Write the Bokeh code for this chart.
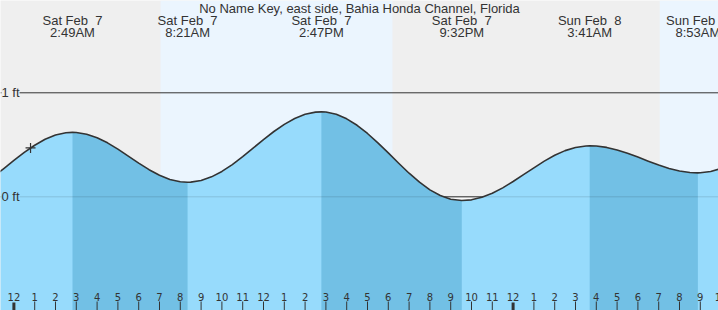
import numpy as np
from bokeh.plotting import figure
from bokeh.models import Range1d, BoxAnnotation, Label
from bokeh.core.properties import value
from bokeh.embed import file_html
from bokeh.resources import INLINE

title_text = "No Name Key, east side, Bahia Honda Channel, Florida"

# time axis: hours since Sat Feb 7 00:00 (local); heights in ft
tide_hours = [-1, -0.5, 0, 0.5, 1, 1.5, 2, 2.5, 2.817,
              3, 3.5, 4, 4.5, 5, 5.5, 6, 6.5, 7, 7.5, 8, 8.35,
              8.5, 9, 9.5, 10, 10.5, 11, 11.5, 12, 12.5, 13, 13.5, 14, 14.5, 14.783,
              15, 15.5, 16, 16.5, 17, 17.5, 18, 18.5, 19, 19.5, 20, 20.5, 21, 21.533,
              22, 22.5, 23, 23.5, 24, 24.5, 25, 25.5, 26, 26.5, 27, 27.5, 27.683,
              28, 28.5, 29, 29.5, 30, 30.5, 31, 31.5, 32, 32.5, 32.883,
              33, 33.5, 34]
tide_ft = [0.19, 0.269, 0.35, 0.427, 0.496, 0.553, 0.594, 0.616, 0.62,
           0.619, 0.602, 0.568, 0.519, 0.458, 0.391, 0.324, 0.261, 0.207, 0.167, 0.145, 0.14,
           0.141, 0.157, 0.192, 0.244, 0.31, 0.386, 0.468, 0.55, 0.628, 0.697, 0.753, 0.793, 0.814, 0.817,
           0.815, 0.794, 0.75, 0.688, 0.609, 0.519, 0.422, 0.323, 0.227, 0.141, 0.067, 0.012, -0.023, -0.036,
           -0.029, -0.005, 0.034, 0.086, 0.147, 0.213, 0.279, 0.343, 0.399, 0.444, 0.474, 0.489, 0.49,
           0.488, 0.475, 0.451, 0.419, 0.382, 0.343, 0.306, 0.273, 0.248, 0.234, 0.23,
           0.231, 0.243, 0.273]

event_hours = [2.817, 8.35, 14.783, 21.533, 27.683, 32.883]
event_ft = [0.62, 0.14, 0.817, -0.036, 0.49, 0.23]
event_kind = ["H", "L", "H", "L", "H", "L"]
event_day = ["Sat Feb  7", "Sat Feb  7", "Sat Feb  7", "Sat Feb  7", "Sun Feb  8", "Sun Feb  8"]
event_time = ["2:49AM", "8:21AM", "2:47PM", "9:32PM", "3:41AM", "8:53AM"]

sunrise_hours = [7.05, 31.05]
sunset_hours = [18.2, None]

now_hour = 0.8
now_ft = 0.47

tick_hours = list(range(0, 35))
tick_labels = ["12", "1", "2", "3", "4", "5", "6", "7", "8", "9", "10", "11",
               "12", "1", "2", "3", "4", "5", "6", "7", "8", "9", "10", "11",
               "12", "1", "2", "3", "4", "5", "6", "7", "8", "9", "10"]
level_labels = ["1 ft", "0 ft"]
level_values = [1, 0]

# styles
NIGHT = "#efefef"
DAY = "#ebf5fe"
WATER = "#97dbfc"
WATER_FALL = "#72c0e5"
INK = "#333333"
FONT = value("Liberation Sans")


def keep_spaces(s):
    return s.replace("  ", " \u00a0")


W, H = 718, 310
x0, x1 = -0.644, 33.875
y0, y1 = -1.093, 1.8875

p = figure(width=W, height=H, x_range=Range1d(x0, x1), y_range=Range1d(y0, y1),
           output_backend="svg", toolbar_location=None, min_border=0,
           x_axis_type=None, y_axis_type=None,
           background_fill_color=NIGHT, border_fill_color=NIGHT,
           outline_line_color=None)
p.grid.visible = False

for sr, ss in zip(sunrise_hours, sunset_hours):
    p.add_layout(BoxAnnotation(left=sr, right=ss, fill_color=DAY, fill_alpha=1,
                               line_color=None, level="underlay"))

th = np.array(tide_hours, dtype=float)
tf = np.array(tide_ft, dtype=float)

# light gap where the tide goes below 0 ft
p.varea(x=th, y1=np.minimum(tf, 0), y2=np.zeros_like(tf), fill_color="#fafafa")
# 0 ft line above water
p.segment(x0=[x0], x1=[x1], y0=[0], y1=[0], line_color=INK, line_width=1)

# water
p.varea(x=th, y1=np.full_like(tf, y0), y2=tf, fill_color=WATER)
for i, k in enumerate(event_kind):
    if k == "H" and i + 1 < len(event_hours):
        m = (th >= event_hours[i] - 1e-9) & (th <= event_hours[i + 1] + 1e-9)
        p.varea(x=th[m], y1=np.full(m.sum(), y0), y2=tf[m], fill_color=WATER_FALL)

# faint 0 ft line in water
p.segment(x0=[x0], x1=[x1], y0=[0], y1=[0], line_color="black", line_alpha=0.13, line_width=1)

# tide curve
p.line(x=th, y=tf, line_color=INK, line_width=1.6, line_join="round")

# current time marker
p.scatter(x=[now_hour], y=[now_ft], marker="cross", size=10, line_color=INK, line_width=1.2)

# 1 ft line
p.segment(x0=[x0], x1=[x1], y0=[1], y1=[1], line_color=INK, line_width=1)

# level labels
p.add_layout(Label(x=x0, y=level_values[0], x_offset=1, text=level_labels[0],
                   text_baseline="middle", text_font="Liberation Sans",
                   text_font_size="13px", text_color=INK,
                   background_fill_color=NIGHT, background_fill_alpha=1))
p.add_layout(Label(x=x0, y=level_values[1], x_offset=1, text=level_labels[1],
                   text_baseline="middle", text_font="Liberation Sans",
                   text_font_size="13px", text_color=INK,
                   background_fill_color=WATER, background_fill_alpha=1))

# title
p.text(x=[(x0 + x1) / 2], y=[y1], text=[title_text], y_offset=7.5,
       text_align="center", text_baseline="middle", text_font=FONT,
       text_font_size="13px", text_color=INK)

# event labels
p.text(x=event_hours, y=[y1] * len(event_hours), text=[keep_spaces(s) for s in event_day],
       y_offset=19.5, text_align="center", text_baseline="middle", text_font=FONT,
       text_font_size="13px", text_color=INK)
p.text(x=event_hours, y=[y1] * len(event_hours), text=event_time, y_offset=32,
       text_align="center", text_baseline="middle", text_font=FONT,
       text_font_size="13px", text_color=INK)

# hour ticks and labels
tick_w = [3 if h % 24 == 0 else 1 for h in tick_hours]
tick_h = [16 if h % 24 == 0 else 18 for h in tick_hours]
p.rect(x=tick_hours, y=[y0] * len(tick_hours), width=tick_w, height=tick_h,
       width_units="screen", height_units="screen", fill_color=INK, line_color=None)
p.text(x=tick_hours, y=[y0] * len(tick_hours), text=tick_labels, y_offset=-14,
       text_align="center", text_baseline="middle", text_font=value("DejaVu Sans"),
       text_font_size="10px", text_color=INK)

open("out.html", "w").write(file_html(p, INLINE))
